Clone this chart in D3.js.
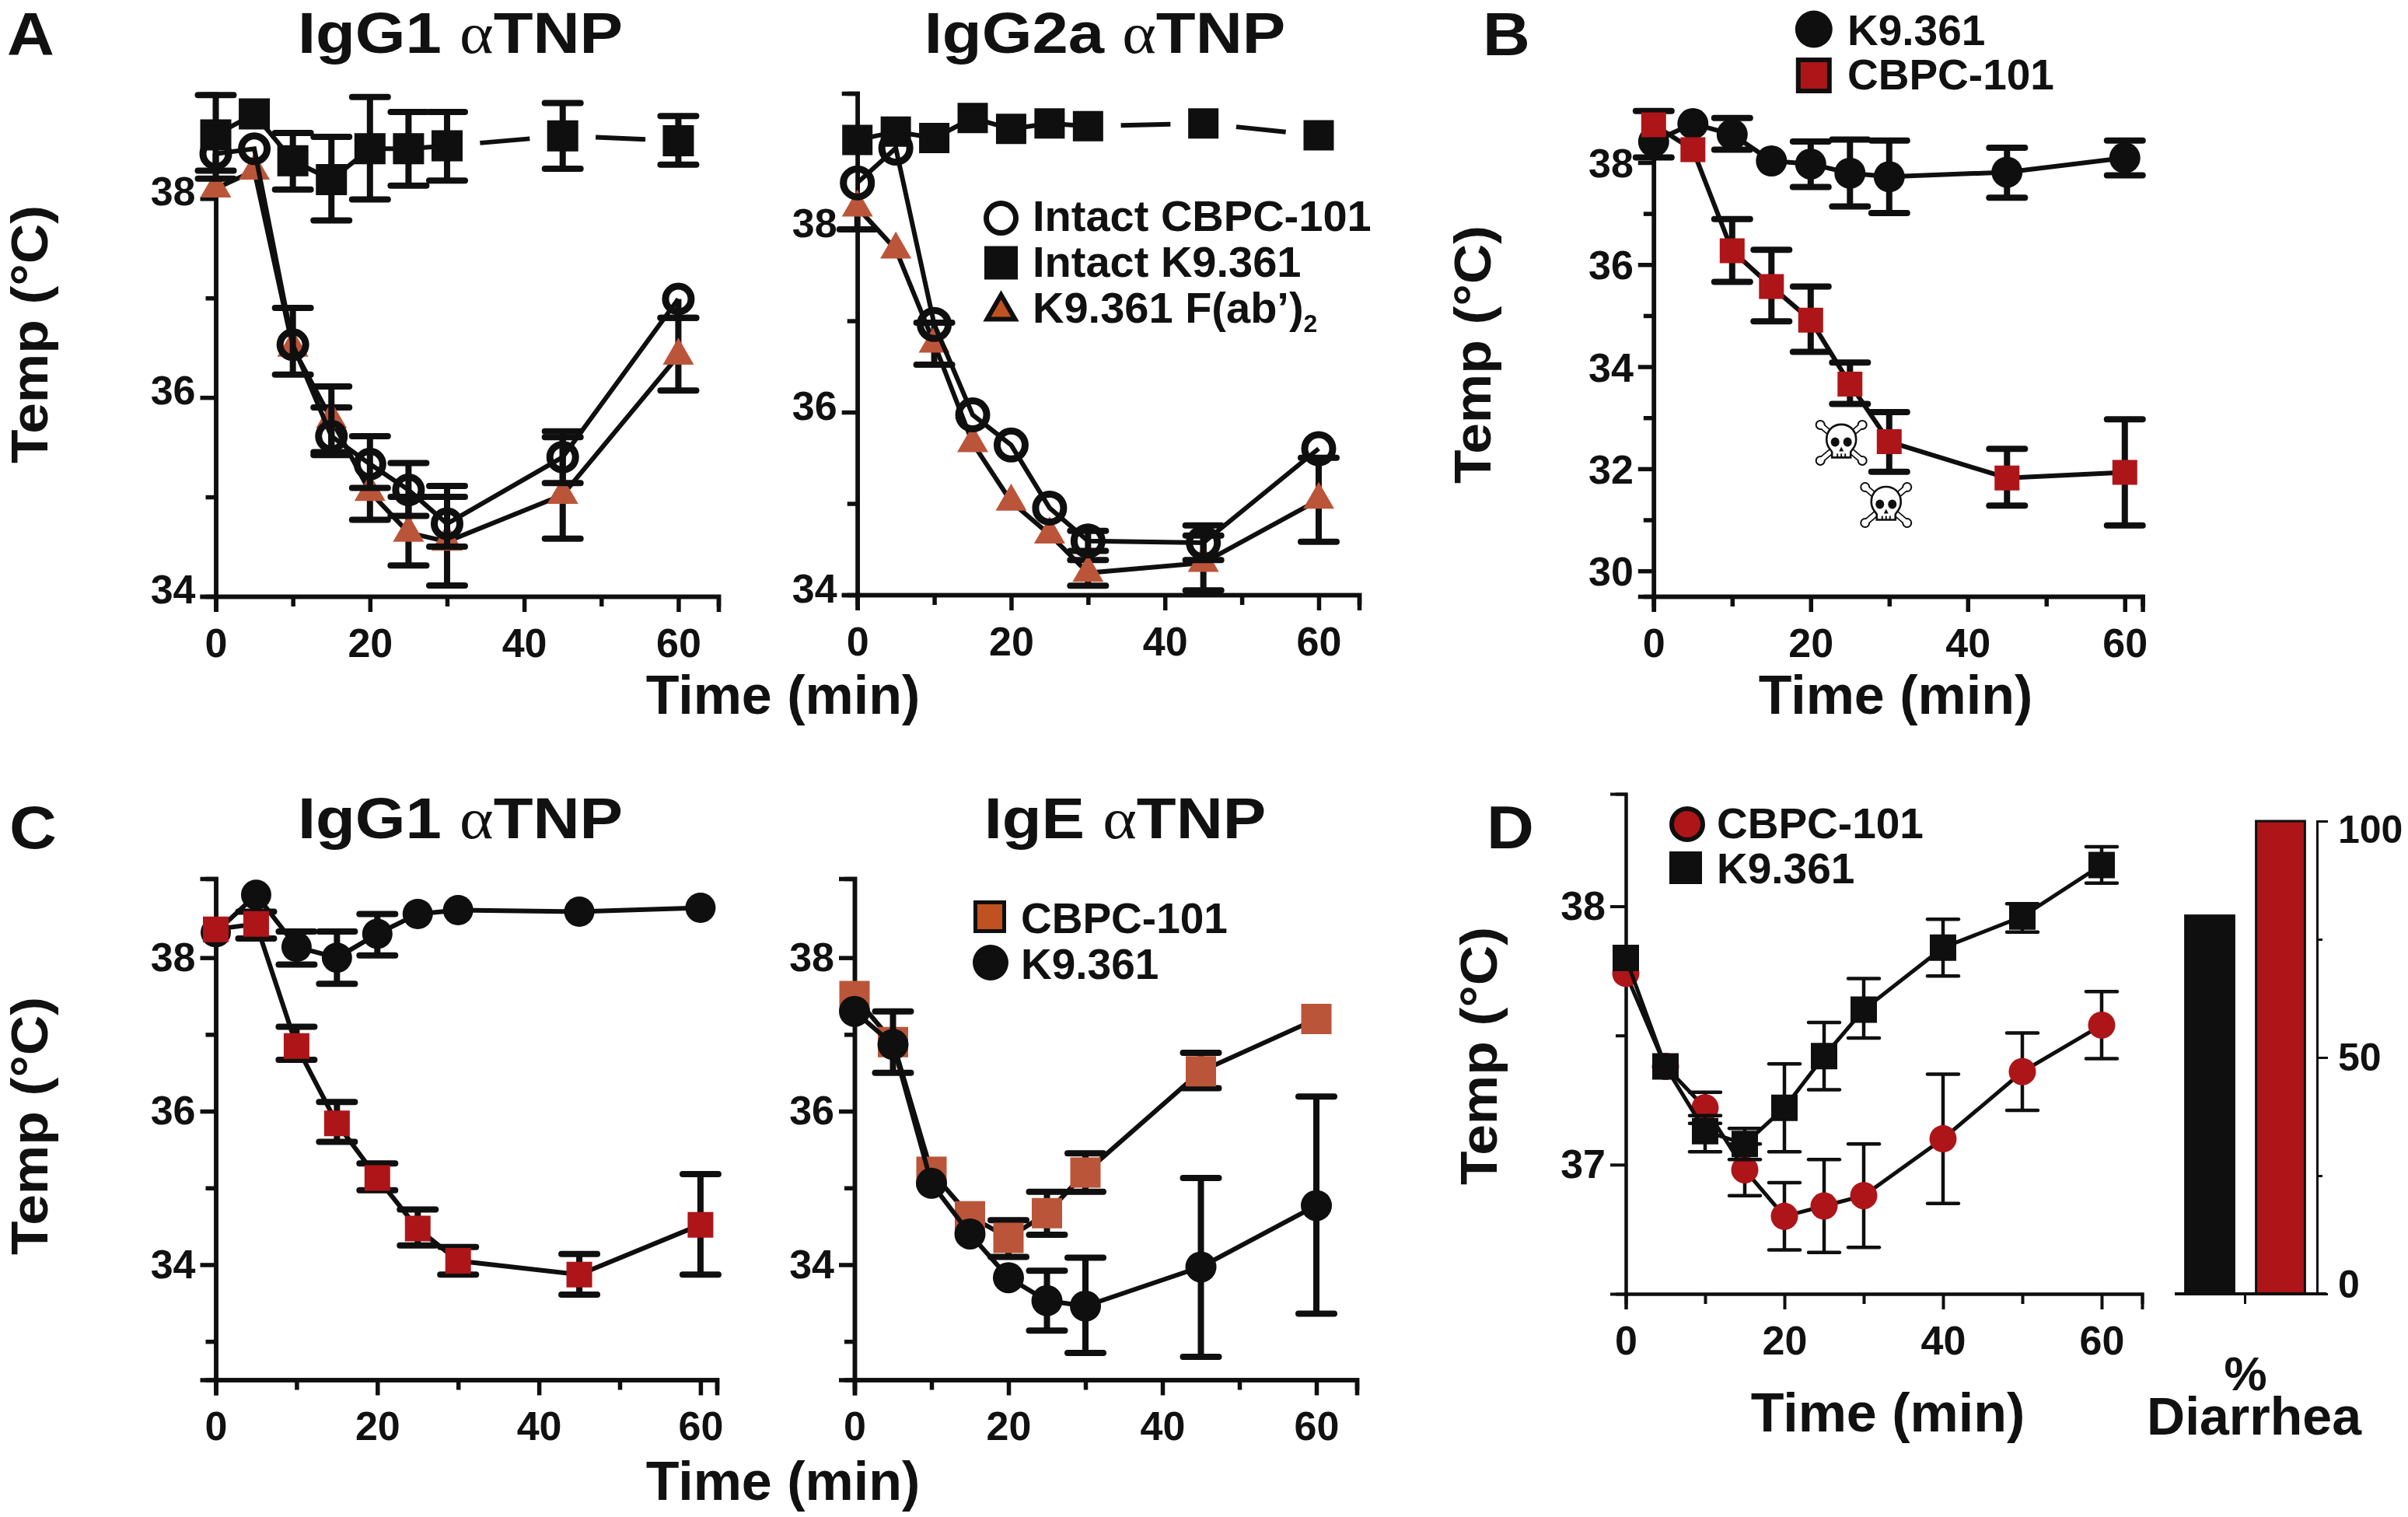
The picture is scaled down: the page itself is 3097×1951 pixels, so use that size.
<!DOCTYPE html>
<html><head><meta charset="utf-8">
<script src="https://cdn.jsdelivr.net/npm/d3@7"></script>
<style>
html,body{margin:0;padding:0;background:#fff}
svg{display:block;filter:blur(0.7px)}
text{font-family:"Liberation Sans",Arial,sans-serif;font-weight:700;fill:#111}
</style></head><body>
<script>
// ---------- data ----------
const timesMain = [0,5,10,15,20,25,30,45,60];
const timesD = [0,5,10,15,20,25,30,40,50,60];

const a1Square = [38.64,38.85,38.38,38.19,38.5,38.5,38.53,38.63,38.58];
const a1SquareHi = [39.04,null,38.66,38.62,39.02,38.87,38.87,38.96,38.83];
const a1SquareLo = [38.28,null,38.09,37.78,37.99,38.13,38.18,38.3,38.34];
const a1Circle = [38.45,38.5,36.53,35.61,35.33,35.07,34.73,35.4,36.99];
const a1CircleHi = [null,null,36.9,36.11,35.61,35.34,35.11,35.66,null];
const a1CircleLo = [38.2,null,36.23,35.42,35.09,34.81,34.5,35.14,36.8];
const a1Triangle = [38.1,38.28,36.5,35.78,35.05,34.64,34.55,35.02,36.42];
const a1TriangleHi = [null,null,null,35.9,null,35.0,35.0,35.6,36.8];
const a1TriangleLo = [null,null,null,35.45,34.77,34.31,34.11,34.58,36.07];

const a2Square = [38.98,39.07,39.0,39.22,39.1,39.16,39.13,39.16,39.03];
const a2Circle = [38.51,38.89,36.96,35.97,35.64,34.95,34.59,34.57,35.6];
const a2CircleHi = [null,null,null,null,null,null,34.7,34.76,null];
const a2CircleLo = [null,null,null,null,null,null,34.48,34.38,null];
const a2Triangle = [38.24,37.78,36.75,35.66,35.02,34.66,34.24,34.35,35.04];
const a2TriangleHi = [null,null,36.98,null,null,null,34.38,34.65,35.5];
const a2TriangleLo = [38.0,null,36.52,null,null,null,34.1,34.05,34.58];

const bCircle = [38.41,38.76,38.55,38.03,37.97,37.79,37.72,37.81,38.09];
const bCircleHi = [39.01,null,38.87,null,38.41,38.45,38.43,38.29,38.43];
const bCircleLo = [38.1,null,38.25,null,37.52,37.14,37.01,37.31,37.75];
const bSquare = [38.74,38.25,36.27,35.57,34.91,33.66,32.53,31.82,31.93];
const bSquareHi = [null,null,36.89,36.29,35.57,34.08,33.11,32.39,32.97];
const bSquareLo = [null,null,35.66,34.89,34.29,33.27,31.94,31.28,30.89];
const skullTimes = [23.9,29.6];
const skullTemps = [32.51,31.29];

const c1Circle = [38.33,38.82,38.14,38.0,38.31,38.57,38.62,38.6,38.65];
const c1CircleHi = [null,null,38.34,38.34,38.57,null,null,null,null];
const c1CircleLo = [null,null,37.91,37.66,38.03,null,null,null,null];
const c1Square = [38.37,38.44,36.85,35.84,35.13,34.47,34.05,33.87,34.52];
const c1SquareHi = [null,38.6,37.1,36.12,35.32,34.72,34.23,34.14,35.18];
const c1SquareLo = [null,38.25,36.67,35.6,34.97,34.25,33.87,33.61,33.87];

const c2Square = [37.5,36.9,35.21,34.63,34.35,34.67,35.2,36.52,37.2];
const c2SquareHi = [null,null,null,null,34.58,34.95,35.45,36.76,null];
const c2SquareLo = [null,null,null,null,34.1,34.39,34.95,36.3,null];
const c2Circle = [37.3,36.87,35.06,34.4,33.83,33.53,33.46,33.97,34.77];
const c2CircleHi = [null,37.3,null,null,null,33.92,34.09,35.13,36.19];
const c2CircleLo = [null,36.5,null,null,null,33.14,32.85,32.8,33.36];

const dCircle = [37.74,37.38,37.22,36.98,36.8,36.84,36.88,37.1,37.36,37.54];
const dCircleHi = [null,null,37.28,37.08,36.93,37.02,37.08,37.35,37.51,37.67];
const dCircleLo = [null,null,37.16,36.88,36.67,36.66,36.68,36.85,37.21,37.41];
const dSquare = [37.8,37.38,37.13,37.08,37.22,37.42,37.6,37.84,37.96,38.16];
const dSquareHi = [null,null,37.19,37.14,37.39,37.55,37.72,37.95,38.01,38.23];
const dSquareLo = [null,null,37.05,37.02,37.05,37.29,37.49,37.73,37.9,38.09];

const barNames = ["K9.361","CBPC-101"];
const barValues = [80,100];

const xMajorTicks = [0,20,40,60];
const xMinorTicks = [10,30,50];
const barMajorTicks = [0,50,100];
const barMinorTicks = [25,75];

// ---------- styling ----------
const BLACK="#0f0f0f", RED="#ae1519", ORANGE="#bb553a", LEG_ORANGE="#bf5220";
const W=3097,H=1951;
const svg=d3.select("body").append("svg").attr("width",W).attr("height",H).attr("viewBox",`0 0 ${W} ${H}`);
svg.append("rect").attr("width",W).attr("height",H).attr("fill","#fff");

function markerPath(kind,size){
  if(kind==="circle") return d3.symbol().type(d3.symbolCircle).size(Math.PI*size*size/4)();
  if(kind==="square") return d3.symbol().type(d3.symbolSquare).size(size*size)();
  return d3.symbol().type(d3.symbolTriangle).size(size*size*Math.sqrt(3)/4)();
}
function drawMarker(g,kind,size,style,px,py){
  g.append("path").attr("d",markerPath(kind,size))
    .attr("transform",`translate(${px},${py})`)
    .attr("fill",style.fill).attr("stroke",style.stroke||"none").attr("stroke-width",style.sw||0);
}

function drawPanel(p){
  const g=svg.append("g");
  const x=d3.scaleLinear().domain(p.xd).range(p.xr);
  const y=d3.scaleLinear().domain(p.yd).range(p.yr);
  const bottom=p.yr[0];
  const axW=p.axisW||5.5;
  const ya=g.append("g").attr("transform",`translate(${p.xr[0]},0)`)
    .call(d3.axisLeft(y).tickValues(p.yMajor).tickSize(20).tickPadding(6).tickFormat(d3.format("d")));
  const yb=g.append("g").attr("transform",`translate(${p.xr[0]},0)`)
    .call(d3.axisLeft(y).tickValues(p.yMinor).tickSize(13).tickFormat(""));
  const xa=g.append("g").attr("transform",`translate(0,${bottom})`)
    .call(d3.axisBottom(x).tickValues(xMajorTicks).tickSize(20).tickPadding(21).tickFormat(d3.format("d")));
  const xb=g.append("g").attr("transform",`translate(0,${bottom})`)
    .call(d3.axisBottom(x).tickValues(xMinorTicks).tickSize(13).tickFormat(""));
  [ya,yb,xa,xb].forEach(a=>{
    a.selectAll("path.domain").attr("stroke",BLACK).attr("stroke-width",axW);
    a.selectAll("line").attr("stroke",BLACK).attr("stroke-width",axW);
    a.selectAll("text").attr("font-size",p.tickFont||52).attr("fill","#111")
      .style("font-family",'"Liberation Sans"').style("font-weight",700);
  });
  ya.selectAll("text").attr("transform",`translate(0,${p.yLabelDy||0})`).attr("dy","0.32em");

  const line=d3.line().x(d=>x(d.t)).y(d=>y(d.v));
  p.series.forEach(s=>{
    const pts=s.t.map((t,i)=>({t,v:s.v[i],hi:s.hi?s.hi[i]:null,lo:s.lo?s.lo[i]:null}));
    const sg=g.append("g");
    const ew=p.errW||8, cw=p.capW||46;
    pts.forEach(d=>{
      if(d.hi==null&&d.lo==null) return;
      const top=d.hi==null?d.v:d.hi, bot=d.lo==null?d.v:d.lo;
      sg.append("line").attr("x1",x(d.t)).attr("x2",x(d.t)).attr("y1",y(top)).attr("y2",y(bot)).attr("stroke",BLACK).attr("stroke-width",ew);
      [d.hi,d.lo].forEach(e=>{ if(e==null) return;
        sg.append("line").attr("x1",x(d.t)-cw/2).attr("x2",x(d.t)+cw/2).attr("y1",y(e)).attr("y2",y(e))
          .attr("stroke",BLACK).attr("stroke-width",ew).attr("stroke-linecap","round");
      });
    });
    if(s.broken){
      pts.slice(1).forEach((d,i)=>{
        const a=pts[i],b=d;
        const f=(b.t-a.t)>10?0.285:0;
        const seg=[{t:a.t+(b.t-a.t)*f,v:a.v+(b.v-a.v)*f},{t:b.t-(b.t-a.t)*f,v:b.v-(b.v-a.v)*f}];
        sg.append("path").attr("d",line(seg)).attr("fill","none").attr("stroke",BLACK).attr("stroke-width",p.lineW||6);
      });
    } else {
      sg.append("path").attr("d",line(pts)).attr("fill","none").attr("stroke",BLACK).attr("stroke-width",p.lineW||6);
    }
    pts.forEach(d=>drawMarker(sg,s.kind,s.size,s.style,x(d.t),y(d.v)));
  });
  return {g,x,y};
}

const sqBlack={fill:BLACK}, ciBlack={fill:BLACK}, ciOpen={fill:"none",stroke:BLACK,sw:9},
      triOr={fill:ORANGE}, sqRed={fill:RED}, sqOr={fill:ORANGE}, ciRed={fill:RED};
const yTicks34={yMajor:[34,36,38],yMinor:[35,37]};

drawPanel({xd:[0,65.2],xr:[277.5,924],yd:[34,39.05],yr:[767,121],yLabelDy:-8,...yTicks34,series:[
 {t:timesMain,v:a1Square,hi:a1SquareHi,lo:a1SquareLo,kind:"square",size:40,style:sqBlack,broken:true},
 {t:timesMain,v:a1Triangle,hi:a1TriangleHi,lo:a1TriangleLo,kind:"triangle",size:40,style:triOr},
 {t:timesMain,v:a1Circle,hi:a1CircleHi,lo:a1CircleLo,kind:"circle",size:33,style:ciOpen}]});
drawPanel({xd:[0,65.26],xr:[1102.7,1748],yd:[34,39.49],yr:[765,120],yLabelDy:-7,...yTicks34,series:[
 {t:timesMain,v:a2Square,kind:"square",size:39,style:sqBlack,broken:true},
 {t:timesMain,v:a2Triangle,hi:a2TriangleHi,lo:a2TriangleLo,kind:"triangle",size:40,style:triOr},
 {t:timesMain,v:a2Circle,hi:a2CircleHi,lo:a2CircleLo,kind:"circle",size:36,style:ciOpen}]});
const panelB=drawPanel({xd:[0,62.26],xr:[2126.8,2755.6],yd:[29.5,39.02],yr:[767,142],yLabelDy:2,yMajor:[30,32,34,36,38],yMinor:[31,33,35,37],series:[
 {t:timesMain,v:bCircle,hi:bCircleHi,lo:bCircleLo,kind:"circle",size:40,style:ciBlack},
 {t:timesMain,v:bSquare,hi:bSquareHi,lo:bSquareLo,kind:"square",size:32,style:sqRed}]});
drawPanel({xd:[0,62.03],xr:[277.5,922],yd:[32.5,39.03],yr:[1774.5,1130],...yTicks34,yMinor:[33,35,37],series:[
 {t:timesMain,v:c1Circle,hi:c1CircleHi,lo:c1CircleLo,kind:"circle",size:39,style:ciBlack},
 {t:timesMain,v:c1Square,hi:c1SquareHi,lo:c1SquareLo,kind:"square",size:33,style:sqRed}]});
drawPanel({xd:[0,65.25],xr:[1099,1745],yd:[32.5,39.03],yr:[1774.5,1130],...yTicks34,yMinor:[33,35,37],series:[
 {t:timesMain,v:c2Square,hi:c2SquareHi,lo:c2SquareLo,kind:"square",size:39,style:sqOr},
 {t:timesMain,v:c2Circle,hi:c2CircleHi,lo:c2CircleLo,kind:"circle",size:40,style:ciBlack}]});
drawPanel({xd:[0,65.1],xr:[2091,2755],yd:[36.5,38.435],yr:[1664,1021],yMajor:[37,38],yMinor:[37.5],axisW:4,lineW:5,errW:4.5,capW:40,tickFont:52,series:[
 {t:timesD,v:dCircle,hi:dCircleHi,lo:dCircleLo,kind:"circle",size:35,style:ciRed},
 {t:timesD,v:dSquare,hi:dSquareHi,lo:dSquareLo,kind:"square",size:34,style:sqBlack}]});

// skull and crossbones in panel B
function skull(g,cx,cy){
  const s=g.append("g").attr("transform",`translate(${cx},${cy})`);
  [[-27,-23,27,23],[27,-23,-27,23]].forEach(b=>{
    s.append("line").attr("x1",b[0]).attr("y1",b[1]).attr("x2",b[2]).attr("y2",b[3]).attr("stroke",BLACK).attr("stroke-width",8.5).attr("stroke-linecap","round");
    [[b[0],b[1]],[b[2],b[3]]].forEach(e=>s.append("circle").attr("cx",e[0]).attr("cy",e[1]).attr("r",5.5).attr("fill","#fff").attr("stroke",BLACK).attr("stroke-width",2));
  });
  [[-27,-23,27,23],[27,-23,-27,23]].forEach(b=>{
    s.append("line").attr("x1",b[0]).attr("y1",b[1]).attr("x2",b[2]).attr("y2",b[3]).attr("stroke","#fff").attr("stroke-width",5).attr("stroke-linecap","round");
  });
  s.append("path").attr("d","M-19,-4 C-19,-30 19,-30 19,-4 C19,6 13,9 12,12 L12,19 L-12,19 L-12,12 C-13,9 -19,6 -19,-4Z")
    .attr("fill","#fff").attr("stroke",BLACK).attr("stroke-width",2.6);
  [-8,8].forEach(ex=>s.append("ellipse").attr("cx",ex).attr("cy",-1).attr("rx",5.5).attr("ry",6).attr("fill",BLACK));
  s.append("path").attr("d","M0,5 L-3,11 L3,11Z").attr("fill",BLACK);
  [-5,0,5].forEach(tx=>s.append("line").attr("x1",tx).attr("x2",tx).attr("y1",14).attr("y2",19).attr("stroke",BLACK).attr("stroke-width",2));
}
skullTimes.forEach((t,i)=>skull(svg,panelB.x(t),panelB.y(skullTemps[i])));

// diarrhea bars
const barX=d3.scaleBand().domain(barNames).range([2796.5,2978.5]).paddingInner(0.31).paddingOuter(0.155);
const barY=d3.scaleLinear().domain([0,100]).range([1664,1056]);
const barColors=[BLACK,RED];
svg.append("g").selectAll("rect").data(barNames).join("rect")
  .attr("x",d=>barX(d)).attr("width",barX.bandwidth())
  .attr("y",(d,i)=>barY(barValues[i])).attr("height",(d,i)=>barY(0)-barY(barValues[i]))
  .attr("fill",(d,i)=>barColors[i]).attr("stroke",BLACK).attr("stroke-width",3);
const bmaj=svg.append("g").attr("transform","translate(2980,0)")
  .call(d3.axisRight(barY).tickValues(barMajorTicks).tickSize(14).tickPadding(13).tickFormat(d3.format("d")));
const bmin=svg.append("g").attr("transform","translate(2980,0)")
  .call(d3.axisRight(barY).tickValues(barMinorTicks).tickSize(7).tickFormat(""));
[bmaj,bmin].forEach(a=>{a.selectAll("path.domain,line").attr("stroke",BLACK).attr("stroke-width",3);});
bmaj.selectAll("text").attr("font-size",50).attr("fill","#111").style("font-family",'"Liberation Sans"').style("font-weight",700)
  .attr("transform",d=>`translate(0,${d===100?11:d===0?-12:0})`);
svg.append("line").attr("x1",2797).attr("x2",2992).attr("y1",barY(0)).attr("y2",barY(0)).attr("stroke",BLACK).attr("stroke-width",4);
const barMid=(barX(barNames[0])+barX(barNames[1])+barX.bandwidth())/2;
svg.append("line").attr("x1",barMid).attr("x2",barMid).attr("y1",barY(0)).attr("y2",barY(0)+13).attr("stroke",BLACK).attr("stroke-width",3);

// ---------- text ----------
function label(x,y,txt,size,anchor="start",rot=0,sx=1){
  return svg.append("text").attr("transform",`translate(${x},${y}) rotate(${rot}) scale(${sx},1)`).attr("text-anchor",anchor).attr("font-size",size).text(txt);
}
function title(x,y,a,b){
  const t=svg.append("text").attr("transform",`translate(${x},${y}) scale(1.11,1)`).attr("text-anchor","middle").attr("font-size",75);
  t.append("tspan").text(a+" ");
  t.append("tspan").text("\u03b1").style("font-family",'"Liberation Serif"').style("font-weight",400);
  t.append("tspan").text(b);
}
title(592,68,"IgG1","TNP"); title(1421,68,"IgG2a","TNP"); title(592,1078,"IgG1","TNP"); title(1447,1078,"IgE","TNP");
label(9,71,"A",78,"start",0,1.08); label(1907,71,"B",78,"start",0,1.08); label(12,1091,"C",78,"start",0,1.08); label(1912,1091,"D",78,"start",0,1.08);
[[61,430],[61,1448],[1917,456],[1925,1358]].forEach(c=>label(c[0],c[1],"Temp (\u00b0C)",66,"middle",-90,1.08));
[[1007,918],[2438,918],[1007,1929],[2428,1841]].forEach(c=>label(c[0],c[1],"Time (min)",70,"middle"));
label(2888,1788,"%",62,"middle"); label(2899,1845,"Diarrhea",68,"middle");

// legends
const lg=svg.append("g");
drawMarker(lg,"circle",38,{fill:"none",stroke:BLACK,sw:7},1287.5,280.6);
drawMarker(lg,"square",43,{fill:BLACK},1287.5,338);
drawMarker(lg,"triangle",36,{fill:LEG_ORANGE,stroke:BLACK,sw:6},1287.5,400);
label(1328,297,"Intact CBPC-101",56); label(1328,356,"Intact K9.361",56);
const tl=svg.append("text").attr("x",1328).attr("y",415).attr("font-size",56);
tl.append("tspan").text("K9.361 F(ab\u2019)");
tl.append("tspan").text("2").attr("font-size",32).attr("dy",12);

drawMarker(lg,"circle",48,{fill:BLACK},2332.8,37.6);
drawMarker(lg,"square",40,{fill:RED,stroke:BLACK,sw:6},2332.8,97);
label(2376,57.6,"K9.361",55); label(2376,115,"CBPC-101",55);

drawMarker(lg,"square",37,{fill:LEG_ORANGE,stroke:BLACK,sw:5},1273,1179);
drawMarker(lg,"circle",46,{fill:BLACK},1274,1238);
label(1313,1200,"CBPC-101",55); label(1313,1259,"K9.361",55);

drawMarker(lg,"circle",40,{fill:RED,stroke:BLACK,sw:6},2170,1060);
drawMarker(lg,"square",42,{fill:BLACK},2168,1116);
label(2208,1077.6,"CBPC-101",55); label(2208,1136,"K9.361",55);
</script>
</body></html>
